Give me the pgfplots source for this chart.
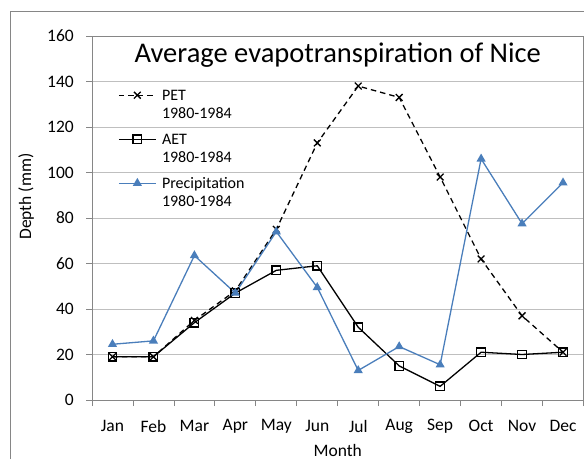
\documentclass[border=0pt]{standalone}
\usepackage{pgfplots}
\pgfplotsset{compat=1.18}
\usepackage{fontspec}
\setmainfont{Carlito}
\definecolor{precip}{HTML}{4A7EBB}
\definecolor{axgray}{HTML}{868686}
\definecolor{gridgray}{HTML}{BFBFBF}
\begin{document}
\begin{tikzpicture}[x=1pt,y=1pt]
\useasboundingbox (0,0) rectangle (584,459);
\draw[axgray, line width=1pt] (10,0) -- (10,447) -- (584,447);
\begin{axis}[
  at={(92pt,59pt)}, anchor=south west,
  scale only axis, width=491.5pt, height=364pt,
  xmin=-0.5, xmax=11.5, ymin=0, ymax=160,
  xtick={0,...,11},
  xticklabels={Jan,Feb,Mar,Apr,May,Jun,Jul,Aug,Sep,Oct,Nov,Dec},
  minor xtick={-0.5,0.5,...,11.5},
  ytick={0,20,...,160},
  minor ytick={0,20,...,160},
  tick pos=left,
  tick align=outside,
  major tick length=0pt, minor tick length=6pt,
  tick style={axgray, line width=0.8pt},
  ymajorgrids, grid style={gridgray, line width=0.8pt},
  axis line style={axgray, line width=0.8pt},
  tick label style={font=\fontsize{17.5}{20}\selectfont, black},
  yticklabel style={anchor=east, inner sep=0pt, xshift=-18pt},
  xticklabel style={anchor=center, inner sep=0pt, yshift=-26pt},
  /pgf/number format/assume math mode=true,
  xlabel={Month}, ylabel={Depth (mm)},
  every axis x label/.style={at={(axis description cs:0.5,-0.154)}, anchor=base, font=\fontsize{17.5}{20}\selectfont},
  every axis y label/.style={at={(axis description cs:-0.134,0.559)}, rotate=90, anchor=center, font=\fontsize{17.5}{20}\selectfont},
  title={Average evapotranspiration of Nice},
  every axis title/.style={at={(axis description cs:0.5,0.926)}, anchor=base, font=\fontsize{28.5}{32}\selectfont},
  legend style={draw=none, fill=none, inner sep=0pt, row sep=0pt, column sep=2pt,
    at={(axis description cs:0.0529,0.8695)}, anchor=north west,
    font=\fontsize{16}{18.5}\selectfont,
    nodes={inner sep=3.5pt, anchor=base west}},
  legend image code/.code={\path[draw=none, fill=none] (0pt,-27.5pt) rectangle (37pt,16.5pt);
    \draw[mark repeat=2,mark phase=2,#1] plot coordinates {(0pt,5pt)(18.5pt,5pt)(37pt,5pt)};},
]
\addplot[black, line width=1.3pt, dash pattern=on 5.5pt off 4pt, mark=x, mark size=4.8pt, mark options={solid}]
  coordinates {(0,19)(1,19)(2,35)(3,48)(4,75)(5,113)(6,138)(7,133)(8,98)(9,62)(10,37)(11,21)};
\addlegendentry{\begin{tabular}[t]{@{}l@{}}PET\\1980-1984\end{tabular}}
\addplot[black, line width=1.3pt, mark=square, mark size=4.3pt, mark options={solid, fill=white}]
  coordinates {(0,19)(1,19)(2,34)(3,47)(4,57)(5,59)(6,32)(7,15)(8,6)(9,21)(10,20)(11,21)};
\addlegendentry{\begin{tabular}[t]{@{}l@{}}AET\\1980-1984\end{tabular}}
\addplot[precip, line width=1.3pt, mark=triangle*, mark size=4pt, mark options={solid}]
  coordinates {(0,24.5)(1,26)(2,63.5)(3,47)(4,74)(5,49.5)(6,13)(7,23.5)(8,15.5)(9,106)(10,77.5)(11,95.5)};
\addlegendentry{\begin{tabular}[t]{@{}l@{}}Precipitation\\1980-1984\end{tabular}}
\end{axis}
\end{tikzpicture}
\end{document}
